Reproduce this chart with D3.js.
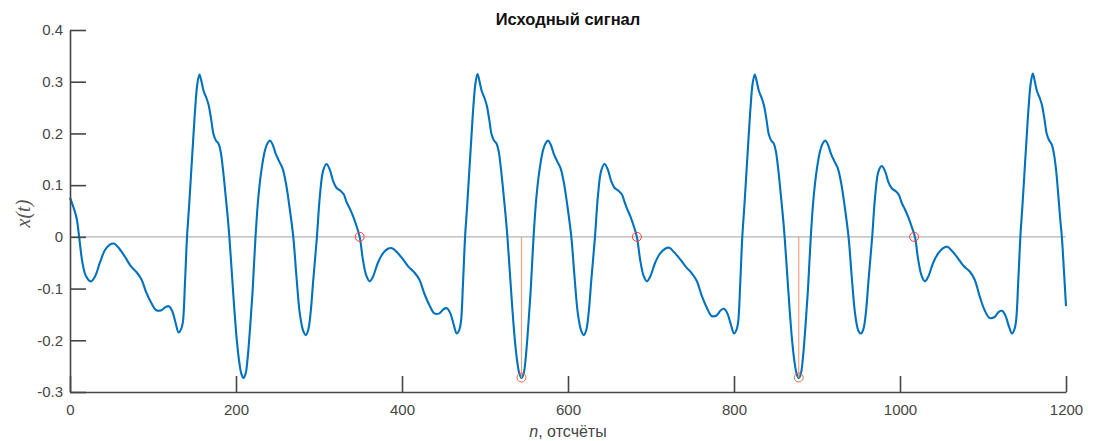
<!DOCTYPE html>
<html>
<head>
<meta charset="utf-8">
<script src="https://d3js.org/d3.v7.min.js"></script>
<style>
  body { margin: 0; background: #fff; }
  svg text { font-family: "Liberation Sans", Arial, sans-serif; }
</style>
</head>
<body>
<div id="chart"></div>
<script>
// signal, [n, x(t)] per period
const period1 = [[0,0.076],[4,0.058],[8,0.036],[11,0],[15,-0.05],[19,-0.075],[25,-0.086],
  [30,-0.077],[36,-0.05],[42,-0.026],[48,-0.015],[53,-0.013],[59,-0.022],[66,-0.038],[73,-0.056],[80,-0.068],[86,-0.082],[92,-0.108],[98,-0.128],[104,-0.142],[110,-0.142],[115,-0.136],[119,-0.134],[123,-0.143],[127,-0.165],[131,-0.185],[134,-0.178],[136,-0.165],[138.5,-0.09],[141,0],[143.5,0.06],[146,0.125],[148.5,0.19],[151,0.252],[153.5,0.297],[156,0.314],[158.5,0.3],[161,0.282],[164,0.27],[167,0.255],[170,0.228],[173,0.198],[176,0.186],[179,0.18],[181.5,0.165],[184,0.135],[187,0.088],[190,0.038],[192,0],[195,-0.07],[198,-0.14],[201,-0.2],[204,-0.243],[206.5,-0.265],[209,-0.273],[211.5,-0.265],[214,-0.235],[217,-0.175],[220,-0.105],[223.5,0],[227,0.078],[231,0.133],[235,0.168],[238,0.181],[241,0.186],[244,0.179],[248,0.16],[252,0.146],[256,0.133],[260,0.105],[264,0.063],[269,0],[273,-0.08],[277,-0.15],[281,-0.182],[284,-0.19],[287,-0.18],[290,-0.145],[293,-0.085],[297.5,0],[301,0.078],[305,0.128],[309,0.141],[313,0.13],[317,0.108],[321,0.095],[326,0.089],[330,0.082],[333,0.068]];

const period2 = [[337,0.055],[341,0.04],[345,0.022],[349,0],[353,-0.045],[357,-0.075],[361,-0.086],
  [365,-0.077],[371,-0.05],[377,-0.032],[383,-0.023],[388,-0.022],[394,-0.03],[401,-0.043],[408,-0.058],[415,-0.069],[421,-0.083],[427,-0.11],[433,-0.132],[439,-0.148],[445,-0.148],[450,-0.14],[454,-0.138],[458,-0.147],[462,-0.168],[466,-0.187],[469,-0.18],[471,-0.165],[473.5,-0.09],[476,0],[478.5,0.06],[481,0.125],[483.5,0.19],[486,0.252],[488.5,0.297],[491,0.315],[493.5,0.3],[496,0.282],[499,0.27],[502,0.255],[505,0.228],[508,0.198],[511,0.186],[514,0.18],[516.5,0.165],[519,0.135],[522,0.088],[525,0.038],[527,0],[530,-0.07],[533,-0.14],[536,-0.2],[539,-0.243],[541.5,-0.265],[544,-0.273],[546.5,-0.265],[549,-0.235],[552,-0.175],[555,-0.105],[558.5,0],[562,0.078],[566,0.133],[570,0.168],[573,0.181],[576,0.186],[579,0.179],[583,0.16],[587,0.146],[591,0.133],[595,0.105],[599,0.063],[604,0],[608,-0.08],[612,-0.15],[616,-0.182],[619,-0.19],[622,-0.18],[625,-0.145],[628,-0.085],[632.5,0],[636,0.078],[640,0.128],[644,0.141],[648,0.13],[652,0.108],[656,0.095],[661,0.089],[665,0.082],[668,0.068]];

const period3 = [[671,0.055],[675,0.04],[679,0.022],[683,0],[687,-0.045],[691,-0.075],[695,-0.086],
  [699,-0.077],[705,-0.05],[711,-0.032],[717,-0.023],[722,-0.021],[728,-0.03],[735,-0.043],[742,-0.058],[749,-0.07],[755,-0.085],[761,-0.113],[767,-0.136],[773,-0.153],[779,-0.152],[784,-0.142],[788,-0.139],[792,-0.148],[796,-0.168],[800,-0.187],[803,-0.18],[805,-0.165],[807.5,-0.09],[810,0],[812.5,0.06],[815,0.125],[817.5,0.19],[820,0.252],[822.5,0.297],[825,0.314],[827.5,0.3],[830,0.282],[833,0.27],[836,0.255],[839,0.228],[842,0.198],[845,0.186],[848,0.18],[850.5,0.165],[853,0.135],[856,0.088],[859,0.038],[861,0],[864,-0.07],[867,-0.14],[870,-0.2],[873,-0.243],[875.5,-0.265],[878,-0.273],[880.5,-0.265],[883,-0.235],[886,-0.175],[889,-0.105],[892.5,0],[896,0.078],[900,0.133],[904,0.168],[907,0.181],[910,0.186],[913,0.179],[917,0.16],[921,0.146],[925,0.133],[929,0.105],[933,0.063],[938,0],[942,-0.08],[946,-0.15],[950,-0.182],[953,-0.187],[956,-0.178],[959,-0.145],[962,-0.085],[966.5,0],[970,0.078],[974,0.126],[978,0.137],[982,0.127],[986,0.106],[990,0.094],[995,0.088],[999,0.08],[1002,0.066]];

const period4 = [[1006,0.053],[1010,0.038],[1014,0.02],[1018,0],[1022,-0.045],[1026,-0.075],[1030,-0.086],
  [1034,-0.077],[1040,-0.05],[1046,-0.032],[1052,-0.022],[1057,-0.019],[1063,-0.028],[1070,-0.042],[1077,-0.057],[1084,-0.067],[1090,-0.083],[1096,-0.115],[1102,-0.142],[1108,-0.157],[1114,-0.155],[1119,-0.145],[1123,-0.143],[1127,-0.152],[1131,-0.172],[1135,-0.187],[1138,-0.178],[1140,-0.16],[1142.5,-0.085],[1145,0],[1147.5,0.06],[1150,0.125],[1152.5,0.19],[1155,0.252],[1157.5,0.297],[1160,0.316],[1162.5,0.3],[1165,0.282],[1168,0.27],[1171,0.255],[1174,0.228],[1177,0.198],[1180,0.186],[1183,0.178],[1185.5,0.16],[1188,0.13],[1190.5,0.085],[1193,0.035],[1195,0],[1197.5,-0.065],[1200,-0.134]];

const zeroCrossN = [349, 683, 1017];
const minimaN = [544, 878];
const minimaX = [-0.272, -0.272];

const xTicks = [0, 200, 400, 600, 800, 1000, 1200];
const yTicks = [-0.3, -0.2, -0.1, 0, 0.1, 0.2, 0.3, 0.4];
const yTickLabels = ["-0.3", "-0.2", "-0.1", "0", "0.1", "0.2", "0.3", "0.4"];

const width = 1095, height = 441;
const margin = { top: 30, right: 29, bottom: 49, left: 70 };

const svg = d3.select("#chart").append("svg")
  .attr("width", width)
  .attr("height", height);

const x = d3.scaleLinear().domain([0, 1200]).range([margin.left, width - margin.right]);
const y = d3.scaleLinear().domain([-0.3, 0.4]).range([height - margin.bottom, margin.top]);

const signal = period1.concat(period2, period3, period4);

// zero line
svg.append("line")
  .attr("x1", x(0)).attr("x2", x(1200))
  .attr("y1", y(0)).attr("y2", y(0))
  .attr("stroke", "#b4b4b4")
  .attr("stroke-width", 1.2);

const line = d3.line()
  .x(d => x(d[0]))
  .y(d => y(d[1]))
  .curve(d3.curveCatmullRom.alpha(0.5));

svg.append("path")
  .datum(signal)
  .attr("fill", "none")
  .attr("stroke", "#0072BD")
  .attr("stroke-width", 2.1)
  .attr("stroke-linejoin", "round")
  .attr("d", line);

// stems to the minima
const minima = minimaN.map((n, i) => ({ n: n, v: minimaX[i] }));

svg.selectAll(".stem")
  .data(minima)
  .enter().append("line")
  .attr("class", "stem")
  .attr("x1", d => x(d.n)).attr("x2", d => x(d.n))
  .attr("y1", y(0)).attr("y2", d => y(d.v))
  .attr("stroke", "#f2a283")
  .attr("stroke-width", 1.2);

svg.selectAll(".minDot")
  .data(minima)
  .enter().append("circle")
  .attr("class", "minDot")
  .attr("cx", d => x(d.n))
  .attr("cy", d => y(d.v))
  .attr("r", 4.5)
  .attr("fill", "none")
  .attr("stroke", "#e8683c")
  .attr("stroke-width", 1);

svg.selectAll(".zeroDot")
  .data(zeroCrossN)
  .enter().append("circle")
  .attr("class", "zeroDot")
  .attr("cx", d => x(d))
  .attr("cy", y(0))
  .attr("r", 4.5)
  .attr("fill", "none")
  .attr("stroke", "#ff3b3b")
  .attr("stroke-width", 1);

// axes, ticks pointing inward
const xAxis = d3.axisBottom(x).tickValues(xTicks).tickFormat(d3.format("d")).tickSize(-16).tickSizeOuter(0).tickPadding(12);
const yAxis = d3.axisLeft(y).tickValues(yTicks).tickFormat((d, i) => yTickLabels[i]).tickSize(-16).tickSizeOuter(0).tickPadding(7);

const gx = svg.append("g")
  .attr("transform", "translate(0," + (height - margin.bottom) + ")")
  .call(xAxis);

const gy = svg.append("g")
  .attr("transform", "translate(" + margin.left + ",0)")
  .call(yAxis);

[gx, gy].forEach(g => {
  g.select(".domain").attr("stroke", "#454545").attr("stroke-width", 1.6);
  g.selectAll(".tick line").attr("stroke", "#454545").attr("stroke-width", 1.6);
  g.selectAll(".tick text")
    .attr("fill", "#454545")
    .style("font-size", "15px")
    .style("font-family", "'Liberation Sans', Arial, sans-serif");
});

svg.append("text")
  .attr("x", x(600))
  .attr("y", 25)
  .attr("text-anchor", "middle")
  .style("font-size", "16.5px")
  .style("font-weight", "bold")
  .attr("fill", "#111")
  .text("Исходный сигнал");

const xLabel = svg.append("text")
  .attr("x", x(600))
  .attr("y", 437)
  .attr("text-anchor", "middle")
  .style("font-size", "16px")
  .attr("fill", "#454545");
xLabel.append("tspan").style("font-style", "italic").text("n");
xLabel.append("tspan").text(", отсчёты");

svg.append("text")
  .attr("transform", "translate(30," + y(0.045) + ") rotate(-90)")
  .attr("text-anchor", "middle")
  .style("font-family", "'Liberation Serif', 'DejaVu Serif', serif")
  .style("font-size", "20px")
  .style("font-style", "italic")
  .attr("fill", "#555")
  .text("x(t)");
</script>
</body>
</html>
